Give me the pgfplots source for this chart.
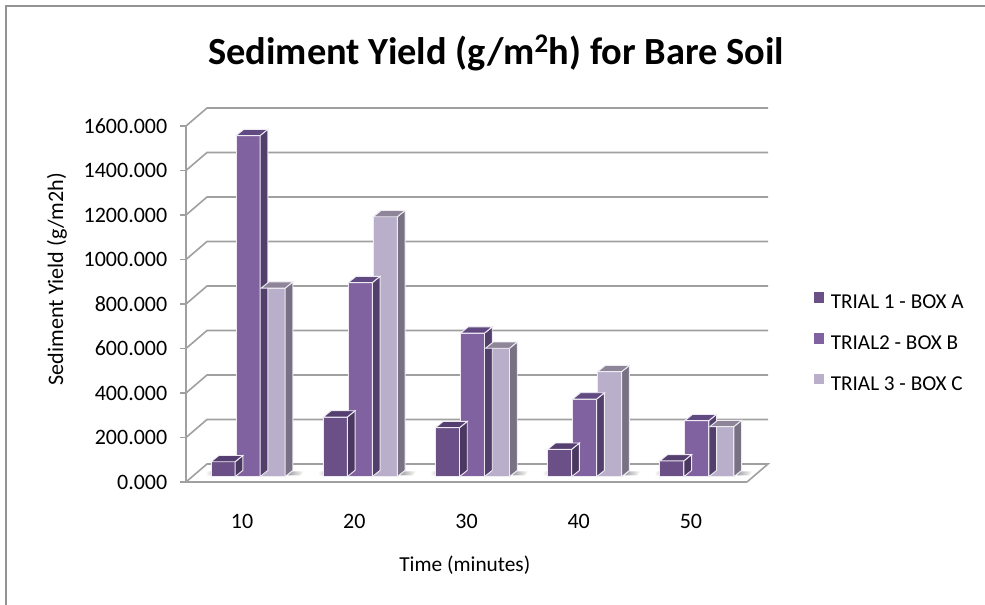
\documentclass[border=0pt]{standalone}
\usepackage{pgfplots}
\pgfplotsset{compat=1.18}
\usepackage{fontspec}
\setmainfont{Carlito}
\definecolor{fA}{RGB}{106,80,135}\definecolor{sA}{RGB}{74,56,96}\definecolor{tA}{RGB}{85,62,112}
\definecolor{fB}{RGB}{128,98,160}\definecolor{sB}{RGB}{82,63,108}\definecolor{tB}{RGB}{97,74,130}
\definecolor{fC}{RGB}{185,175,202}\definecolor{sC}{RGB}{120,112,131}\definecolor{tC}{RGB}{143,133,153}
\definecolor{edgeC}{RGB}{238,235,243}
\definecolor{gridC}{RGB}{160,160,160}
\def\dX{5.8}\def\dY{4.7}\def\bw{18}\def\yo{4}\def\ppu{0.166875}% pt per data unit
\pgfdeclareplotmark{nomark}{}
\pgfplotsset{
  depth/.style n args={3}{forget plot,scatter,only marks,mark=nomark,
    visualization depends on=rawy \as \rawv,
    scatter/@pre marker code/.code={%
      \pgfscope
      \pgfmathsetmacro\hh{\rawv*\ppu}%
      \pgfmathsetmacro\R{#1+\bw/2}\pgfmathsetmacro\L{#1-\bw/2}%
      \fill[#2,draw=edgeC,line width=.7pt] (\R pt,\yo pt) -- ++(\dX pt,\dY pt) -- ++(0pt,-\hh pt) -- ++(-\dX pt,-\dY pt) -- cycle;
      \fill[#3,draw=edgeC,line width=.7pt] (\L pt,\yo pt) -- ++(\dX pt,\dY pt) -- (\R pt+\dX pt,\yo pt+\dY pt) -- (\R pt,\yo pt) -- cycle;
    },
    scatter/@post marker code/.code={\endpgfscope}},
  front/.style n args={2}{ybar,bar width=\bw pt,bar shift=#1pt,yshift=\yo pt,fill=#2,draw=edgeC,line width=.7pt,
    legend image code/.code={\fill[#2,draw=none] (0pt,-3.9pt) rectangle (7.6pt,3.9pt);\path (10.6pt,0pt);}}
}
\pgfplotstableread{
x A B C
10 67 1533 847
20 268 872 1168
30 220 645 577
40 123 349 472
50 71 252 225
}\sediment
\begin{document}
\begin{tikzpicture}
\path[use as bounding box] (0pt,0pt) rectangle (738.75pt,453.75pt);
\draw[gray!85,line width=1.3pt] (4.5pt,0pt) -- (4.5pt,449.2pt) -- (738.75pt,449.2pt);
\begin{axis}[
  at={(139.5pt,92.25pt)},anchor=south west,scale only axis,width=420.75pt,height=267pt,
  xmin=5,xmax=55,ymin=0,ymax=1600,clip=false,
  axis x line*=bottom,axis y line*=left,
  axis line style={gridC,line width=1.3pt,-},
  xtick={10,20,30,40,50},ytick={0,200,...,1600},
  xtick style={draw=none},
  ytick style={gridC,line width=1.1pt},
  tick align=outside,major tick length=4.5pt,
  tick label style={font=\fontsize{16.5}{18}\selectfont,/pgf/number format/assume math mode=true},
  yticklabel style={/pgf/number format/.cd,fixed,fixed zerofill,precision=3,1000 sep={}},
  yticklabel shift=6pt,
  xticklabel style={yshift=-16pt},
  xticklabel={\pgfmathprintnumber[int detect]{\tick}},
  title={\textbf{Sediment Yield (g/m\textsuperscript{2}h) for Bare Soil}},
  title style={at={(axis description cs:0.553,1.183)},anchor=center,font=\fontsize{28.8}{34}\selectfont},
  ylabel={Sediment Yield (g/m2h)},
  ylabel style={at={(axis description cs:-0.23,0.57)},anchor=center,rotate=0,font=\fontsize{16.6}{19}\selectfont},
  xlabel={Time (minutes)},
  xlabel style={at={(axis description cs:0.497,-0.233)},anchor=center,font=\fontsize{16}{19}\selectfont},
  legend style={at={(axis description cs:1.111,0.541)},anchor=north west,draw=none,fill=none,
    font=\fontsize{15.9}{18}\selectfont,row sep=14.8pt},
  legend cell align=left,
]
% back wall and floor
\pgfplotsinvokeforeach{200,400,...,1600}{
  \draw[gridC,line width=1.2pt] (axis cs:5,#1) -- ++(15.75pt,13.5pt) -- ([xshift=15.75pt,yshift=13.5pt]axis cs:55,#1);
}
\draw[gridC,line width=1.2pt] (axis cs:5,0) -- ++(15.75pt,13.5pt) -- ([xshift=15.75pt,yshift=13.5pt]axis cs:55,0) -- (axis cs:55,0);
% shadows on the floor
\pgfplotsinvokeforeach{10,20,30,40,50}{
  \shade[left color=gray!75,right color=white] ([xshift=34.5pt,yshift=5pt]axis cs:#1,0) -- ++(3pt,3pt) -- ++(9pt,0pt) -- ++(-3pt,-3pt) -- cycle;
  \shade[left color=white,right color=gray!40] ([xshift=-27.5pt,yshift=5pt]axis cs:#1,0) -- ++(2pt,3pt) -- ++(4pt,0pt) -- ++(0pt,-3pt) -- cycle;
}
% bars, drawn left to right
\addplot[depth={-14.25}{sA}{tA}] table[x=x,y=A]{\sediment};
\addplot[front={-14.25}{fA}] table[x=x,y=A]{\sediment};
\addlegendentry{TRIAL 1 - BOX A}
\addplot[depth={4.5}{sB}{tB}] table[x=x,y=B]{\sediment};
\addplot[front={4.5}{fB}] table[x=x,y=B]{\sediment};
\addlegendentry{TRIAL2 - BOX B}
\addplot[depth={23.25}{sC}{tC}] table[x=x,y=C]{\sediment};
\addplot[front={23.25}{fC}] table[x=x,y=C]{\sediment};
\addlegendentry{TRIAL 3 - BOX C}
\end{axis}
\end{tikzpicture}
\end{document}
